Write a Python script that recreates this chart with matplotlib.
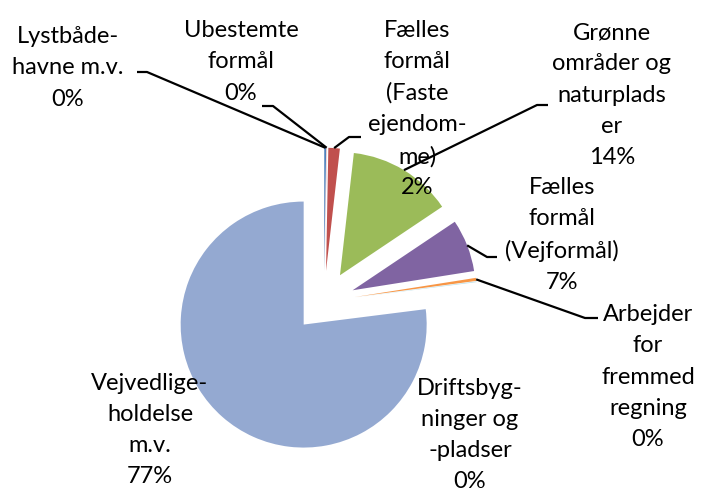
import matplotlib
matplotlib.use("Agg")
import matplotlib.pyplot as plt
import numpy as np

# Data (clockwise from 12 o'clock)
categories = [
    "Lystbåde-\nhavne m.v.",
    "Ubestemte\nformål",
    "Fælles\nformål\n(Faste\nejendom-\nme)",
    "Grønne\nområder og\nnaturplads\ner",
    "Fælles\nformål\n(Vejformål)",
    "Arbejder\nfor\nfremmed\nregning",
    "Driftsbyg-\nninger og\n-pladser",
    "Vejvedlige-\nholdelse\nm.v.",
]
values = [0.25, 0.05, 1.5, 13.8, 6.9, 0.4, 0.1, 77.0]
pct_labels = ["0%", "0%", "2%", "14%", "7%", "0%", "0%", "77%"]
colors = ["#4F81BD", "#D99694", "#C0504D", "#9BBB59", "#8064A2",
          "#F79646", "#B7DEE8", "#94A9D1"]

W, H = 702, 491
R_PX = 123.0
CX, CY = 324.0, 301.5


def px(x, y):
    return ((x - CX) / R_PX, (CY - y) / R_PX)


fig = plt.figure(figsize=(W / 100, H / 100), dpi=100)
ax = fig.add_axes([0, 0, 1, 1])

wedges, _ = ax.pie(values, colors=colors, startangle=90, counterclock=False,
                   explode=[0.25] * len(values), radius=1.0,
                   wedgeprops=dict(linewidth=0), frame=True)
ax.set_xlim(-CX / R_PX, (W - CX) / R_PX)
ax.set_ylim((CY - H) / R_PX, CY / R_PX)
ax.set_aspect("auto")
ax.axis("off")

# label block centres (pixels) and leader elbows
label_pos = [(68, 68), (241, 62), (417, 109), (612, 95),
             (562, 235), (648, 377), (470, 435), (150, 430)]
leaders = {
    0: [(147, 72), (137, 72)],
    1: [(273, 106), (262, 106)],
    2: [(349, 137), (361, 137)],
    3: [(537, 105), (548, 105)],
    4: [(487, 257), (497, 257)],
    5: [(585, 318), (598, 318)],
}

font = dict(family=["Lato", "DejaVu Sans"], fontsize=17)
for i, w in enumerate(wedges):
    tx, ty = px(*label_pos[i])
    ax.text(tx, ty, categories[i] + "\n" + pct_labels[i], ha="center",
            va="center", linespacing=1.6, color="black", **font)
    if i in leaders:
        cx, cy = w.center
        ang = np.deg2rad((w.theta1 + w.theta2) / 2)
        ax_, ay_ = cx + w.r * np.cos(ang), cy + w.r * np.sin(ang)
        pts = [(ax_, ay_)] + [px(*p) for p in leaders[i]]
        xs, ys = zip(*pts)
        ax.plot(xs, ys, color="black", lw=1.6, solid_capstyle="butt")

fig.savefig("out.png", dpi=100)
